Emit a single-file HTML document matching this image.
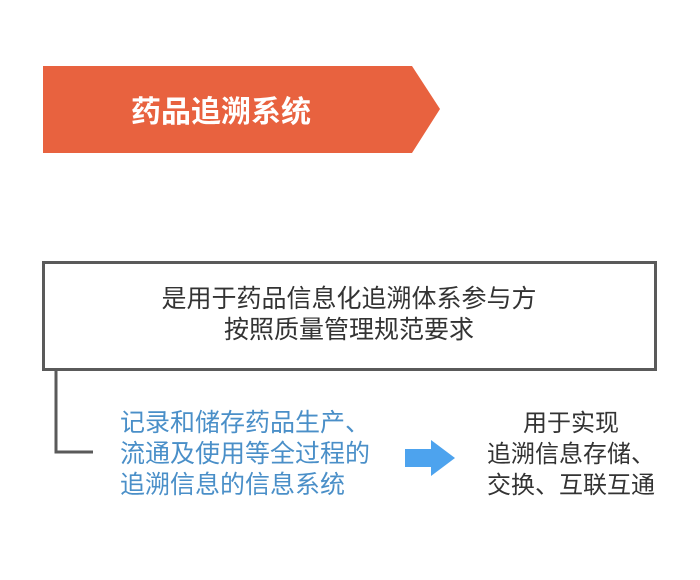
<!DOCTYPE html>
<html><head><meta charset="utf-8"><style>
body{margin:0;width:700px;height:580px;background:#fff;position:relative;overflow:hidden;font-family:"Liberation Sans","Noto Sans CJK SC",sans-serif;}
.t{position:absolute;white-space:nowrap;}
</style></head><body>
<svg width="700" height="580" style="position:absolute;left:0;top:0">
<polygon points="43,66 412,66 440,109 412,153 43,153" fill="#E8623F"/>
<rect x="43.5" y="262.5" width="612" height="107" fill="none" stroke="#5a5a5a" stroke-width="3"/>
<polyline points="56,371 56,452 93,452" fill="none" stroke="#5a5a5a" stroke-width="3"/>
<polygon points="405,449 431,449 431,440 455,458 431,476 431,467 405,467" fill="#4DA3EE"/>
</svg>
<div class="t" style="left:131px;top:95px;font-size:30px;line-height:36px;font-weight:bold;color:#fff;">药品追溯系统</div>
<div class="t" style="left:42px;width:614px;top:284px;font-size:25px;line-height:31px;text-align:center;color:#333">是用于药品信息化追溯体系参与方<br>按照质量管理规范要求</div>
<div class="t" style="left:120px;top:408px;font-size:25px;line-height:31px;color:#4A8FC8">记录和储存药品生产、<br>流通及使用等全过程的<br>追溯信息的信息系统</div>
<div class="t" style="left:476px;width:190px;top:408px;font-size:24px;line-height:31px;text-align:center;color:#333">用于实现<br>追溯信息存储、<br>交换、互联互通</div>
</body></html>
